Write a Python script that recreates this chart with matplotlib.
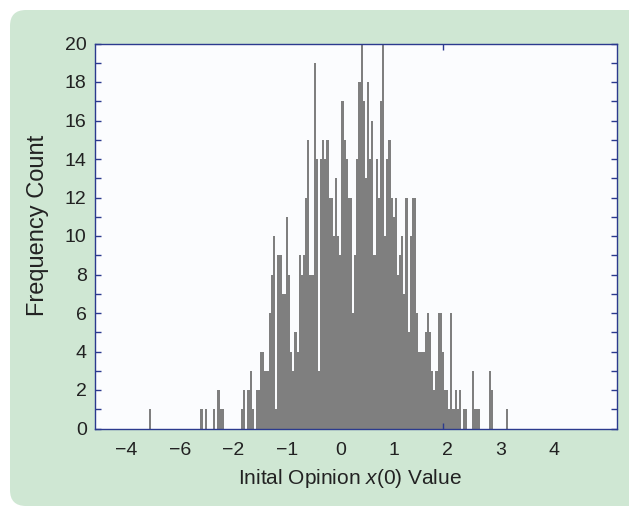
# -*- coding: utf-8 -*-
import numpy as np
import matplotlib as mpl
mpl.use('Agg')
import matplotlib.pyplot as plt
from matplotlib.patches import FancyBboxPatch

mpl.rcParams['font.family'] = ['Liberation Sans', 'DejaVu Sans']
mpl.rcParams['mathtext.fontset'] = 'custom'
mpl.rcParams['mathtext.rm'] = 'Liberation Sans'
mpl.rcParams['mathtext.it'] = 'Liberation Sans:italic'

# histogram bins (start / width) and counts
bin_start = -3.70
bin_width = 0.04
counts = (
    [0, 0, 0, 1] + [0] * 23 +
    [1, 0, 1, 0, 0, 0, 1, 0, 2, 1, 1] + [0] * 8 +
    [1, 2, 0, 2, 3, 1, 0, 2, 2, 4, 4, 3, 3, 6, 8, 10, 1, 9, 9, 7,
     7, 11, 8, 4, 3, 5, 4, 9, 8, 9, 12, 15, 8, 8, 19, 14, 3, 14, 15, 14,
     15, 12, 12, 10, 13, 10, 9, 17, 15, 14, 12, 12, 6, 9, 14, 18, 20, 17, 13, 18,
     14, 16, 9, 14, 12, 17, 20, 10, 14, 15, 12, 11, 12, 8, 9, 10, 7, 12, 5, 10,
     12, 12, 6, 4, 4, 4, 5, 6, 5, 3, 2, 3, 6, 6, 4, 2, 2, 1, 6, 1,
     2, 1, 2, 0, 1, 1, 0, 0, 3, 1, 1, 1, 0, 0, 0, 0, 3, 2] +
    [0] * 6 + [1]
)

x_ticks = [-4, -3, -2, -1, 0, 1, 2, 3, 4]
x_ticklabels = ['\u22124', '\u22126', '\u22122', '\u22121', '0', '1', '2', '3', '4']
y_ticks = list(range(0, 21, 2))

edges = bin_start + bin_width * np.arange(len(counts) + 1)

green = '#cfe7d3'
navy = '#2b3a8e'

fig = plt.figure(figsize=(6.29, 5.17), dpi=100)
panel = FancyBboxPatch((0.10, 0.11), 7.5, 4.96,
                       boxstyle='round,pad=0,rounding_size=0.16',
                       transform=fig.dpi_scale_trans, fc=green, ec='none',
                       zorder=0)
fig.add_artist(panel)

W, H = 629., 517.
ax = fig.add_axes([95 / W, 1 - 428.5 / H, (617 - 95) / W, (428.5 - 43.5) / H])
ax.set_facecolor('#fbfcfe')

ax.bar(edges[:-1], counts, width=bin_width, align='edge',
       color='#7f7f7f', linewidth=0)

ax.set_xlim(-4.593, 5.18)
ax.set_ylim(0, 20)

for s in ax.spines.values():
    s.set_color(navy)
    s.set_linewidth(1.0)

ax.set_yticks(y_ticks)
ax.set_yticks(range(0, 21), minor=True)
ax.set_xticks(x_ticks)
ax.set_xticklabels(x_ticklabels)
ax.set_xticks([1.92], minor=True)

ax.tick_params(axis='y', which='both', direction='in', left=True, right=True,
               length=4, width=1, color=navy, labelsize=14, pad=6,
               labelcolor='#222222')
ax.tick_params(axis='x', which='major', length=0, labelsize=14, pad=10,
               labelcolor='#222222')
ax.tick_params(axis='x', which='minor', direction='in', top=True, bottom=True,
               length=4, width=1, color=navy)

ax.set_xlabel(r'Inital Opinion $x$(0) Value', fontsize=15, color='#222222')
ax.xaxis.set_label_coords(0.489, -0.1)
ax.set_ylabel('Frequency Count', fontsize=17, color='#222222')
ax.yaxis.set_label_coords(-0.088, 0.527)

plt.savefig('out.png', dpi=100)
